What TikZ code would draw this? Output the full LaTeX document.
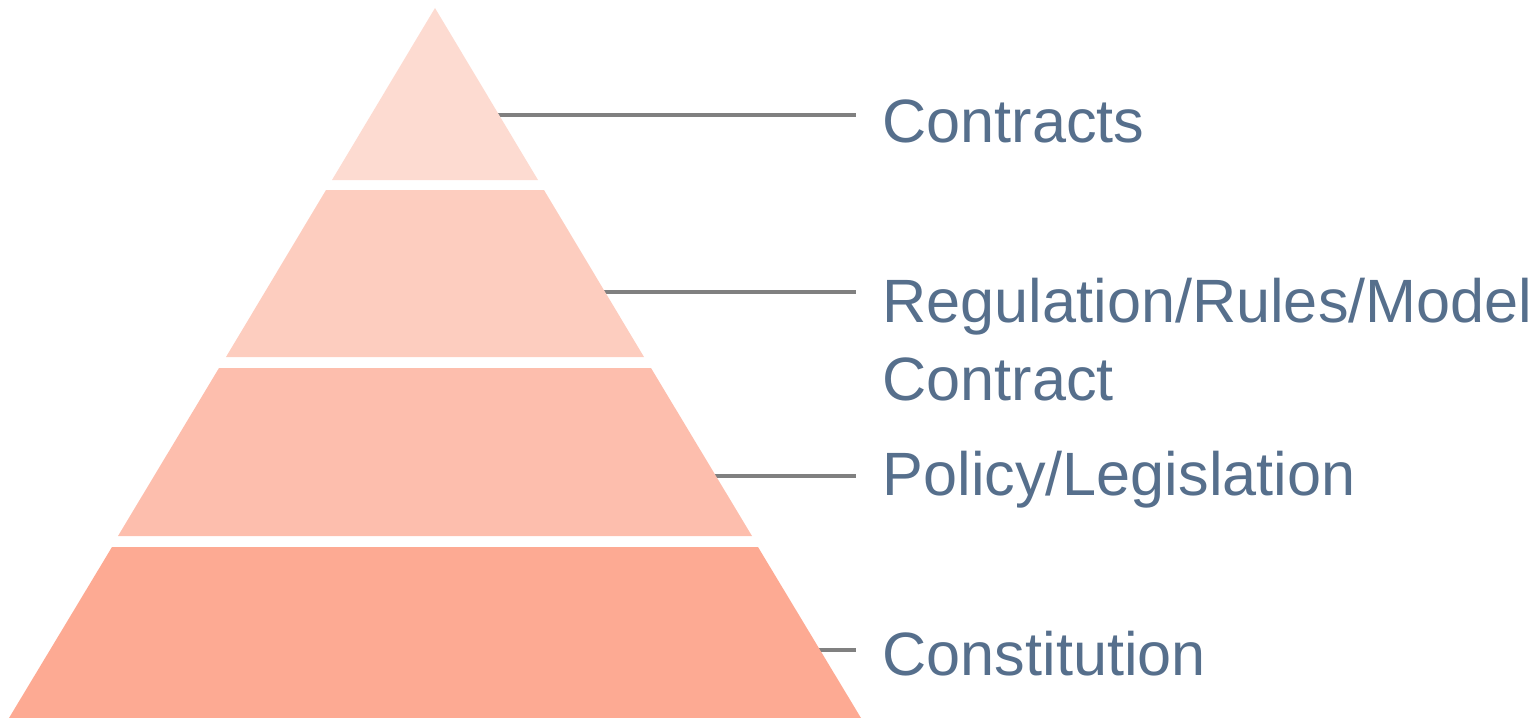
\documentclass[tikz,border=0pt]{standalone}
\usepackage{fontspec}
\setmainfont{Liberation Sans}
\begin{document}
\begin{tikzpicture}[x=0.01cm,y=-0.01cm]
\definecolor{tierA}{RGB}{253,219,209}
\definecolor{tierB}{RGB}{253,205,191}
\definecolor{tierC}{RGB}{253,190,173}
\definecolor{tierD}{RGB}{253,170,147}
\definecolor{tiertext}{RGB}{86,111,140}
\definecolor{leadgray}{RGB}{128,128,128}
\tikzset{tier/.style = {anchor=base west, inner sep=0pt, text=tiertext, align=left, font=\fontsize{17.4}{21.9}\selectfont}}
\tikzset{leader/.style = {-, draw=leadgray, line width=1.1pt, shorten >=0.26cm}}
\useasboundingbox (0,0) rectangle (1538,718);
% edge points
\coordinate (c1) at (495,115);
\coordinate (c2) at (600,292);
\coordinate (c3) at (711,476);
\coordinate (c4) at (815,650);
% labels
\node[tier] (contracts) at (882,143) {Contracts};
\node[tier] (regulation) at (882,400) {Regulation/Rules/Model\\Contract};
\node[tier] (policy) at (882,495) {Policy/Legislation};
\node[tier] (constitution) at (882,675) {Constitution};
% leader lines
\draw[leader] (c1) -- (c1 -| contracts.west);
\draw[leader] (c2) -- (c2 -| regulation.west);
\draw[leader] (c3) -- (c3 -| policy.west);
\draw[leader] (c4) -- (c4 -| constitution.west);
% pyramid bands
\fill[tierA] (435,8) -- (538,180) -- (332,180) -- cycle;
\fill[tierB] (326,190) -- (544,190) -- (644,357) -- (226,357) -- cycle;
\fill[tierC] (219,368) -- (651,368) -- (752,536) -- (118,536) -- cycle;
\fill[tierD] (112,547) -- (758,547) -- (861,718) -- (9,718) -- cycle;
\end{tikzpicture}
\end{document}
